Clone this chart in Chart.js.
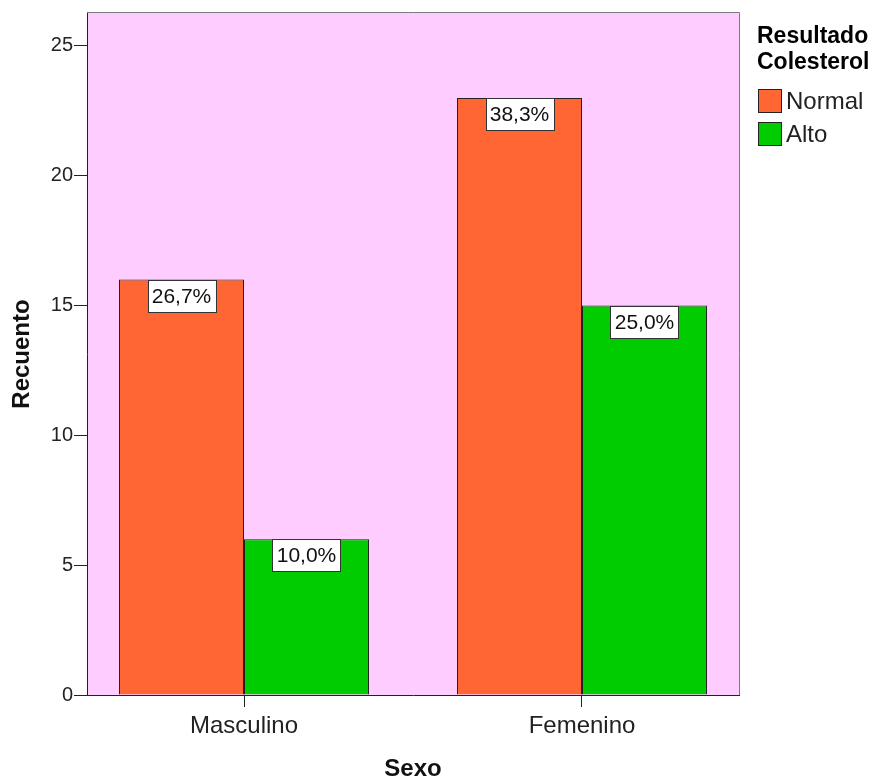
<!DOCTYPE html>
<html>
<head>
<meta charset="utf-8">
<script src="https://cdn.jsdelivr.net/npm/chart.js@4.4.1/dist/chart.umd.min.js"></script>
<style>
  html, body { margin: 0; padding: 0; background: #fff; }
  canvas { display: block; }
</style>
</head>
<body>
<canvas id="grafico" width="877" height="781"></canvas>
<script>
// ===== DATA =====
const categorias = ['Masculino', 'Femenino'];
const posiciones = [1, 2];
const normal = [16, 23];
const alto = [6, 15];
const etiquetasNormal = ['26,7%', '38,3%'];
const etiquetasAlto = ['10,0%', '25,0%'];
const ticksY = [0, 5, 10, 15, 20, 25];
const maxY = 26.27;

const FONT = "'Liberation Sans', Arial, sans-serif";

// ===== PLUGINS =====
const fondo = {
  id: 'fondo',
  beforeDraw(chart) {
    const { ctx, chartArea: a } = chart;
    ctx.save();
    ctx.fillStyle = '#fff';
    ctx.fillRect(0, 0, chart.width, chart.height);
    ctx.fillStyle = '#FFCCFF';
    ctx.fillRect(a.left, a.top, a.right - a.left, a.bottom - a.top);
    ctx.restore();
  }
};

const marco = {
  id: 'marco',
  afterDatasetsDraw(chart) {
    const { ctx, chartArea: a } = chart;
    ctx.save();
    ctx.strokeStyle = '#7a7a7a';
    ctx.lineWidth = 1;
    ctx.beginPath();
    ctx.moveTo(a.left, a.top - 0.5);
    ctx.lineTo(a.right + 0.5, a.top - 0.5);
    ctx.lineTo(a.right + 0.5, a.bottom);
    ctx.stroke();
    ctx.restore();
  }
};

// etiquetas de porcentaje en cajas blancas
const etiquetas = {
  id: 'etiquetas',
  afterDatasetsDraw(chart) {
    const ctx = chart.ctx;
    ctx.save();
    ctx.font = '21px ' + FONT;
    ctx.textAlign = 'center';
    ctx.textBaseline = 'middle';
    chart.data.datasets.forEach((ds, i) => {
      chart.getDatasetMeta(i).data.forEach((bar, j) => {
        const txt = ds.etiquetas[j];
        const w = Math.round(ctx.measureText(txt).width + 8);
        const h = 32;
        const x = Math.round(bar.x - w / 2) + 0.5;
        const y = Math.round(bar.y) + 0.5;
        ctx.fillStyle = '#fff';
        ctx.fillRect(x, y, w, h);
        ctx.strokeStyle = '#333';
        ctx.lineWidth = 1;
        ctx.strokeRect(x, y, w, h);
        ctx.fillStyle = '#111';
        ctx.fillText(txt, bar.x, y + h / 2 + 1);
      });
    });
    ctx.restore();
  }
};

// leyenda a la derecha
const leyenda = {
  id: 'leyenda',
  afterDraw(chart) {
    const ctx = chart.ctx;
    const x0 = chart.chartArea.right + 18;
    ctx.save();
    ctx.textAlign = 'left';
    ctx.textBaseline = 'middle';
    ctx.fillStyle = '#000';
    ctx.font = 'bold 23px ' + FONT;
    ctx.fillText('Resultado', x0, 37);
    ctx.fillText('Colesterol', x0, 63);
    ctx.font = '24px ' + FONT;
    chart.data.datasets.forEach((ds, i) => {
      const y = 89 + i * 33;
      ctx.fillStyle = ds.backgroundColor;
      ctx.fillRect(x0 + 1.5, y + 0.5, 23, 23);
      ctx.strokeStyle = '#222';
      ctx.strokeRect(x0 + 1.5, y + 0.5, 23, 23);
      ctx.fillStyle = '#222';
      ctx.fillText(ds.label, x0 + 29, y + 13);
    });
    ctx.restore();
  }
};

// ===== CHART =====
new Chart(document.getElementById('grafico'), {
  type: 'bar',
  data: {
    datasets: [
      {
        label: 'Normal',
        data: posiciones.map((p, i) => ({ x: p, y: normal[i] })),
        etiquetas: etiquetasNormal,
        backgroundColor: '#FF6633',
        borderColor: '#222',
        borderWidth: 1
      },
      {
        label: 'Alto',
        data: posiciones.map((p, i) => ({ x: p, y: alto[i] })),
        etiquetas: etiquetasAlto,
        backgroundColor: '#00CC00',
        borderColor: '#222',
        borderWidth: 1
      }
    ]
  },
  options: {
    responsive: false,
    animation: false,
    devicePixelRatio: 1,
    layout: { padding: { top: 12, right: 138, left: 0, bottom: 0 } },
    datasets: { bar: { categoryPercentage: 0.7396, barPercentage: 1 } },
    plugins: { legend: { display: false }, tooltip: { enabled: false } },
    scales: {
      x: {
        type: 'linear',
        min: 0.5355,
        max: 2.4645,
        offset: false,
        bounds: 'data',
        afterBuildTicks: s => { s.ticks = posiciones.map(v => ({ value: v })); },
        afterFit: s => { s.height = 86; },
        grid: { offset: false, drawOnChartArea: false, drawTicks: true, tickLength: 12, color: '#222' },
        border: { display: true, color: '#222', width: 1 },
        ticks: {
          callback: v => categorias[posiciones.indexOf(v)] ?? '',
          font: { family: FONT, size: 24 },
          color: '#222',
          padding: 5,
          maxRotation: 0,
          autoSkip: false
        },
        title: {
          display: true,
          text: 'Sexo',
          color: '#111',
          font: { family: FONT, size: 24, weight: 'bold', lineHeight: 1 },
          padding: 0
        }
      },
      y: {
        min: 0,
        max: maxY,
        afterBuildTicks: s => { s.ticks = ticksY.map(v => ({ value: v })); },
        afterFit: s => { s.width = 87; },
        grid: { drawOnChartArea: false, drawTicks: true, tickLength: 13, color: '#222' },
        border: { display: true, color: '#222', width: 1 },
        ticks: { font: { family: FONT, size: 20 }, color: '#222', padding: 1 },
        title: {
          display: true,
          text: 'Recuento',
          color: '#111',
          font: { family: FONT, size: 24, weight: 'bold', lineHeight: 1 },
          padding: { top: 10, bottom: 0 }
        }
      }
    }
  },
  plugins: [fondo, marco, etiquetas, leyenda]
});
</script>
</body>
</html>
